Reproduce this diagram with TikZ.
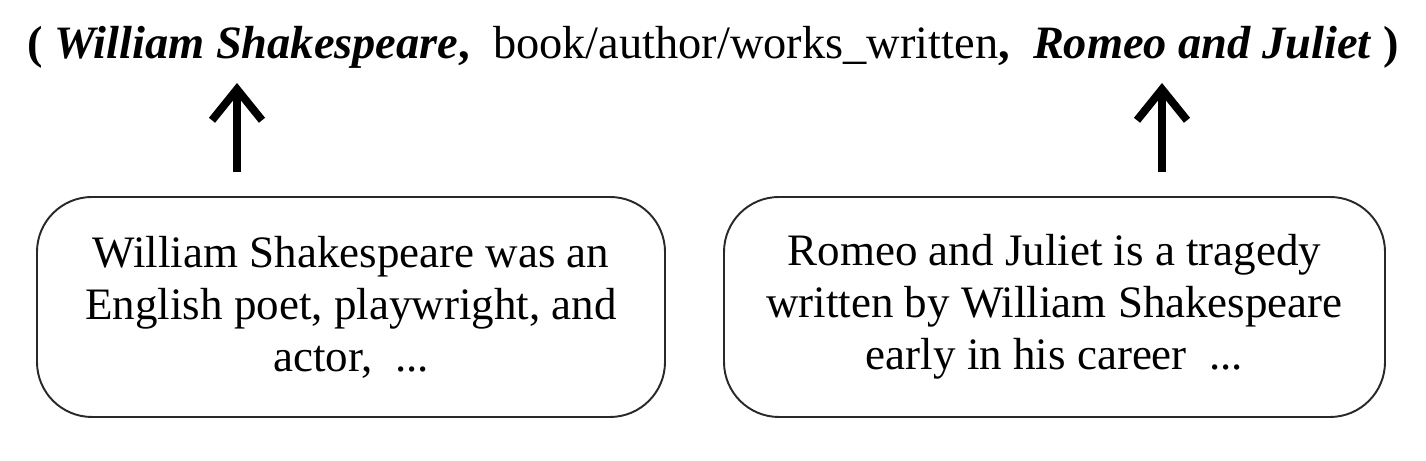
\documentclass[tikz,border=0pt]{standalone}
\usepackage{fontspec}
\setmainfont{Liberation Serif}
\usetikzlibrary{arrows.meta, positioning}
\definecolor{boxline}{RGB}{40, 40, 40}

\begin{document}
\begin{tikzpicture}[
    textbox/.style={draw=boxline, line width=1.1pt, rounded corners=1.1cm,
        minimum width=12.56cm, minimum height=4.4cm, align=center,
        font=\fontsize{25.6}{29.6}\selectfont},
    uparrow/.style={line width=4.5pt, -{Straight Barb[length=0.62cm, width=1.0cm]}}
]
    \useasboundingbox (0,0) rectangle (28.52,9.22);

    % Triple on top
    \node[anchor=base, inner sep=0pt, font=\fontsize{26.4}{30}\selectfont] (triple) at (14.26,8.04)
        {\textbf{(} \textbf{\textit{William Shakespeare},}\ \ book/author/works\_written\textbf{,}\ \ \textbf{\textit{Romeo and Juliet}} \textbf{)}};

    % Description boxes
    \node[textbox] (wsbox) at (7.02,3.08)
        {William Shakespeare was an\\English poet, playwright, and\\actor,\ \ ...};
    \node[textbox, minimum width=13.22cm] (rjbox) at (21.09,3.08)
        {Romeo and Juliet is a tragedy\\written by William Shakespeare\\early in his career\ \ ...};

    % Arrows linking descriptions to entities
    \coordinate (wsfoot) at (4.74,5.78);
    \coordinate (wshead) at (4.74,7.56);
    \coordinate (rjfoot) at (23.24,5.78);
    \coordinate (rjhead) at (23.24,7.56);
    \draw[uparrow] (wsfoot) -- (wshead);
    \draw[uparrow] (rjfoot) -- (rjhead);
\end{tikzpicture}
\end{document}
